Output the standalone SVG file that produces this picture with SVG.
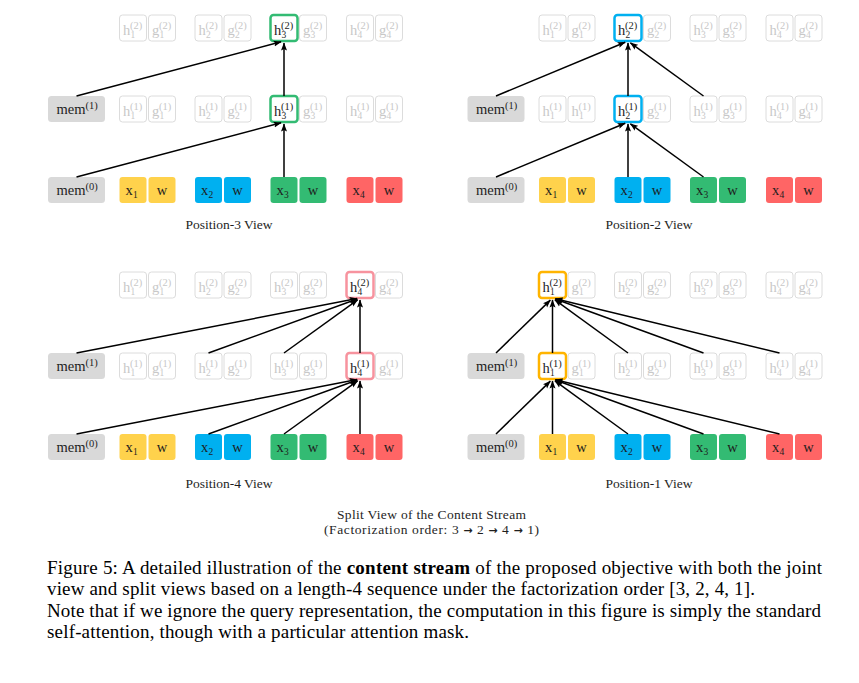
<svg xmlns="http://www.w3.org/2000/svg" width="859" height="683" viewBox="0 0 859 683">
<defs>
<style>
text{font-family:"Liberation Serif","Times New Roman",serif;fill:#1e1e1e;font-size:14.5px}
.s{font-size:10.5px}
.b{font-size:9.5px}
.gh rect{fill:#fff;stroke:#dcdcdc;stroke-width:1}
.gh text{fill:#c8c8c8}
.hl rect{fill:#fff;stroke-width:2.5}
.green rect{stroke:#33bb73}
.blue rect{stroke:#00b0f0}
.pink rect{stroke:#f7939e}
.orange rect{stroke:#ffb400}
.mem rect{fill:#d9d9d9}
.yl rect{fill:#ffd24c}
.bl rect{fill:#00b0f0}
.gr rect{fill:#33bb73}
.rd rect{fill:#ff6565}
.c{stroke:#000;stroke-width:1.5;fill:none;marker-end:url(#ah)}
.lab{font-size:13.5px}
.cap{font-size:19px;fill:#000}
.arr{font-family:"DejaVu Sans",sans-serif;font-weight:bold;font-size:11px}
</style>
<marker id="ah" markerUnits="userSpaceOnUse" markerWidth="9" markerHeight="7" viewBox="0 0 9 7" refX="7.5" refY="3.5" orient="auto"><path d="M0,0.5 L8,3.5 L0,6.5 L1.5,3.5 z" fill="#000"/></marker>
</defs>

<!-- ================= Panel Position-3 (top-left) ================= -->
<g id="p3">
<g id="p3-h1-2" class="gh" transform="translate(119.5,15)"><rect width="27" height="26" rx="3"/><text><tspan x="3.5" y="19.5">h</tspan><tspan class="s" x="10.5" y="14">(2)</tspan><tspan class="b" x="11" y="22.5">1</tspan></text></g>
<g id="p3-g1-2" class="gh" transform="translate(148.5,15)"><rect width="27" height="26" rx="3"/><text><tspan x="3.5" y="19.5">g</tspan><tspan class="s" x="10.5" y="14">(2)</tspan><tspan class="b" x="11" y="22.5">1</tspan></text></g>
<g id="p3-h2-2" class="gh" transform="translate(195,15)"><rect width="27" height="26" rx="3"/><text><tspan x="3.5" y="19.5">h</tspan><tspan class="s" x="10.5" y="14">(2)</tspan><tspan class="b" x="11" y="22.5">2</tspan></text></g>
<g id="p3-g2-2" class="gh" transform="translate(224,15)"><rect width="27" height="26" rx="3"/><text><tspan x="3.5" y="19.5">g</tspan><tspan class="s" x="10.5" y="14">(2)</tspan><tspan class="b" x="11" y="22.5">2</tspan></text></g>
<g id="p3-h3-2" class="hl green" transform="translate(270.5,15)"><rect width="27" height="26" rx="3"/><text><tspan x="3.5" y="19.5">h</tspan><tspan class="s" x="10.5" y="14">(2)</tspan><tspan class="b" x="11" y="22.5">3</tspan></text></g>
<g id="p3-g3-2" class="gh" transform="translate(299.5,15)"><rect width="27" height="26" rx="3"/><text><tspan x="3.5" y="19.5">g</tspan><tspan class="s" x="10.5" y="14">(2)</tspan><tspan class="b" x="11" y="22.5">3</tspan></text></g>
<g id="p3-h4-2" class="gh" transform="translate(346.5,15)"><rect width="27" height="26" rx="3"/><text><tspan x="3.5" y="19.5">h</tspan><tspan class="s" x="10.5" y="14">(2)</tspan><tspan class="b" x="11" y="22.5">4</tspan></text></g>
<g id="p3-g4-2" class="gh" transform="translate(375.5,15)"><rect width="27" height="26" rx="3"/><text><tspan x="3.5" y="19.5">g</tspan><tspan class="s" x="10.5" y="14">(2)</tspan><tspan class="b" x="11" y="22.5">4</tspan></text></g>

<g id="p3-mem1" class="mem" transform="translate(48,96)"><rect width="57" height="26" rx="3.5"/><text><tspan x="8.5" y="17.5">mem</tspan><tspan class="s" dy="-4.5">(1)</tspan></text></g>
<g id="p3-h1-1" class="gh" transform="translate(119.5,96)"><rect width="27" height="26" rx="3"/><text><tspan x="3.5" y="19.5">h</tspan><tspan class="s" x="10.5" y="14">(1)</tspan><tspan class="b" x="11" y="22.5">1</tspan></text></g>
<g id="p3-g1-1" class="gh" transform="translate(148.5,96)"><rect width="27" height="26" rx="3"/><text><tspan x="3.5" y="19.5">g</tspan><tspan class="s" x="10.5" y="14">(1)</tspan><tspan class="b" x="11" y="22.5">1</tspan></text></g>
<g id="p3-h2-1" class="gh" transform="translate(195,96)"><rect width="27" height="26" rx="3"/><text><tspan x="3.5" y="19.5">h</tspan><tspan class="s" x="10.5" y="14">(1)</tspan><tspan class="b" x="11" y="22.5">2</tspan></text></g>
<g id="p3-g2-1" class="gh" transform="translate(224,96)"><rect width="27" height="26" rx="3"/><text><tspan x="3.5" y="19.5">g</tspan><tspan class="s" x="10.5" y="14">(1)</tspan><tspan class="b" x="11" y="22.5">2</tspan></text></g>
<g id="p3-h3-1" class="hl green" transform="translate(270.5,96)"><rect width="27" height="26" rx="3"/><text><tspan x="3.5" y="19.5">h</tspan><tspan class="s" x="10.5" y="14">(1)</tspan><tspan class="b" x="11" y="22.5">3</tspan></text></g>
<g id="p3-g3-1" class="gh" transform="translate(299.5,96)"><rect width="27" height="26" rx="3"/><text><tspan x="3.5" y="19.5">g</tspan><tspan class="s" x="10.5" y="14">(1)</tspan><tspan class="b" x="11" y="22.5">3</tspan></text></g>
<g id="p3-h4-1" class="gh" transform="translate(346.5,96)"><rect width="27" height="26" rx="3"/><text><tspan x="3.5" y="19.5">h</tspan><tspan class="s" x="10.5" y="14">(1)</tspan><tspan class="b" x="11" y="22.5">4</tspan></text></g>
<g id="p3-g4-1" class="gh" transform="translate(375.5,96)"><rect width="27" height="26" rx="3"/><text><tspan x="3.5" y="19.5">g</tspan><tspan class="s" x="10.5" y="14">(1)</tspan><tspan class="b" x="11" y="22.5">4</tspan></text></g>

<g id="p3-mem0" class="mem" transform="translate(48,177)"><rect width="57" height="26" rx="3.5"/><text><tspan x="8.5" y="17.5">mem</tspan><tspan class="s" dy="-4.5">(0)</tspan></text></g>
<g id="p3-x1" class="yl" transform="translate(119.5,177)"><rect width="27" height="26" rx="3"/><text><tspan x="6" y="17.5">x</tspan><tspan class="b" x="13.5" y="20.5">1</tspan></text></g>
<g id="p3-w1" class="yl" transform="translate(148.5,177)"><rect width="27" height="26" rx="3"/><text x="13.5" y="17.5" text-anchor="middle">w</text></g>
<g id="p3-x2" class="bl" transform="translate(195,177)"><rect width="27" height="26" rx="3"/><text><tspan x="6" y="17.5">x</tspan><tspan class="b" x="13.5" y="20.5">2</tspan></text></g>
<g id="p3-w2" class="bl" transform="translate(224,177)"><rect width="27" height="26" rx="3"/><text x="13.5" y="17.5" text-anchor="middle">w</text></g>
<g id="p3-x3" class="gr" transform="translate(270.5,177)"><rect width="27" height="26" rx="3"/><text><tspan x="6" y="17.5">x</tspan><tspan class="b" x="13.5" y="20.5">3</tspan></text></g>
<g id="p3-w3" class="gr" transform="translate(299.5,177)"><rect width="27" height="26" rx="3"/><text x="13.5" y="17.5" text-anchor="middle">w</text></g>
<g id="p3-x4" class="rd" transform="translate(346.5,177)"><rect width="27" height="26" rx="3"/><text><tspan x="6" y="17.5">x</tspan><tspan class="b" x="13.5" y="20.5">4</tspan></text></g>
<g id="p3-w4" class="rd" transform="translate(375.5,177)"><rect width="27" height="26" rx="3"/><text x="13.5" y="17.5" text-anchor="middle">w</text></g>
<text id="p3-label" class="lab" x="229" y="228.5" text-anchor="middle">Position-3 View</text>
</g>

<!-- ================= Panel Position-2 (top-right) ================= -->
<g id="p2">
<g id="p2-h1-2" class="gh" transform="translate(539,15)"><rect width="27" height="26" rx="3"/><text><tspan x="3.5" y="19.5">h</tspan><tspan class="s" x="10.5" y="14">(2)</tspan><tspan class="b" x="11" y="22.5">1</tspan></text></g>
<g id="p2-g1-2" class="gh" transform="translate(568,15)"><rect width="27" height="26" rx="3"/><text><tspan x="3.5" y="19.5">g</tspan><tspan class="s" x="10.5" y="14">(2)</tspan><tspan class="b" x="11" y="22.5">1</tspan></text></g>
<g id="p2-h2-2" class="hl blue" transform="translate(614.5,15)"><rect width="27" height="26" rx="3"/><text><tspan x="3.5" y="19.5">h</tspan><tspan class="s" x="10.5" y="14">(2)</tspan><tspan class="b" x="11" y="22.5">2</tspan></text></g>
<g id="p2-g2-2" class="gh" transform="translate(643.5,15)"><rect width="27" height="26" rx="3"/><text><tspan x="3.5" y="19.5">g</tspan><tspan class="s" x="10.5" y="14">(2)</tspan><tspan class="b" x="11" y="22.5">2</tspan></text></g>
<g id="p2-h3-2" class="gh" transform="translate(690,15)"><rect width="27" height="26" rx="3"/><text><tspan x="3.5" y="19.5">h</tspan><tspan class="s" x="10.5" y="14">(2)</tspan><tspan class="b" x="11" y="22.5">3</tspan></text></g>
<g id="p2-g3-2" class="gh" transform="translate(719,15)"><rect width="27" height="26" rx="3"/><text><tspan x="3.5" y="19.5">g</tspan><tspan class="s" x="10.5" y="14">(2)</tspan><tspan class="b" x="11" y="22.5">3</tspan></text></g>
<g id="p2-h4-2" class="gh" transform="translate(766,15)"><rect width="27" height="26" rx="3"/><text><tspan x="3.5" y="19.5">h</tspan><tspan class="s" x="10.5" y="14">(2)</tspan><tspan class="b" x="11" y="22.5">4</tspan></text></g>
<g id="p2-g4-2" class="gh" transform="translate(795,15)"><rect width="27" height="26" rx="3"/><text><tspan x="3.5" y="19.5">g</tspan><tspan class="s" x="10.5" y="14">(2)</tspan><tspan class="b" x="11" y="22.5">4</tspan></text></g>

<g id="p2-mem1" class="mem" transform="translate(467.5,96)"><rect width="57" height="26" rx="3.5"/><text><tspan x="8.5" y="17.5">mem</tspan><tspan class="s" dy="-4.5">(1)</tspan></text></g>
<g id="p2-h1-1" class="gh" transform="translate(539,96)"><rect width="27" height="26" rx="3"/><text><tspan x="3.5" y="19.5">h</tspan><tspan class="s" x="10.5" y="14">(1)</tspan><tspan class="b" x="11" y="22.5">1</tspan></text></g>
<g id="p2-g1-1" class="gh" transform="translate(568,96)"><rect width="27" height="26" rx="3"/><text><tspan x="3.5" y="19.5">h</tspan><tspan class="s" x="10.5" y="14">(1)</tspan><tspan class="b" x="11" y="22.5">1</tspan></text></g>
<g id="p2-h2-1" class="hl blue" transform="translate(614.5,96)"><rect width="27" height="26" rx="3"/><text><tspan x="3.5" y="19.5">h</tspan><tspan class="s" x="10.5" y="14">(1)</tspan><tspan class="b" x="11" y="22.5">2</tspan></text></g>
<g id="p2-g2-1" class="gh" transform="translate(643.5,96)"><rect width="27" height="26" rx="3"/><text><tspan x="3.5" y="19.5">g</tspan><tspan class="s" x="10.5" y="14">(1)</tspan><tspan class="b" x="11" y="22.5">2</tspan></text></g>
<g id="p2-h3-1" class="gh" transform="translate(690,96)"><rect width="27" height="26" rx="3"/><text><tspan x="3.5" y="19.5">h</tspan><tspan class="s" x="10.5" y="14">(1)</tspan><tspan class="b" x="11" y="22.5">3</tspan></text></g>
<g id="p2-g3-1" class="gh" transform="translate(719,96)"><rect width="27" height="26" rx="3"/><text><tspan x="3.5" y="19.5">g</tspan><tspan class="s" x="10.5" y="14">(1)</tspan><tspan class="b" x="11" y="22.5">3</tspan></text></g>
<g id="p2-h4-1" class="gh" transform="translate(766,96)"><rect width="27" height="26" rx="3"/><text><tspan x="3.5" y="19.5">h</tspan><tspan class="s" x="10.5" y="14">(1)</tspan><tspan class="b" x="11" y="22.5">4</tspan></text></g>
<g id="p2-g4-1" class="gh" transform="translate(795,96)"><rect width="27" height="26" rx="3"/><text><tspan x="3.5" y="19.5">g</tspan><tspan class="s" x="10.5" y="14">(1)</tspan><tspan class="b" x="11" y="22.5">4</tspan></text></g>

<g id="p2-mem0" class="mem" transform="translate(467.5,177)"><rect width="57" height="26" rx="3.5"/><text><tspan x="8.5" y="17.5">mem</tspan><tspan class="s" dy="-4.5">(0)</tspan></text></g>
<g id="p2-x1" class="yl" transform="translate(539,177)"><rect width="27" height="26" rx="3"/><text><tspan x="6" y="17.5">x</tspan><tspan class="b" x="13.5" y="20.5">1</tspan></text></g>
<g id="p2-w1" class="yl" transform="translate(568,177)"><rect width="27" height="26" rx="3"/><text x="13.5" y="17.5" text-anchor="middle">w</text></g>
<g id="p2-x2" class="bl" transform="translate(614.5,177)"><rect width="27" height="26" rx="3"/><text><tspan x="6" y="17.5">x</tspan><tspan class="b" x="13.5" y="20.5">2</tspan></text></g>
<g id="p2-w2" class="bl" transform="translate(643.5,177)"><rect width="27" height="26" rx="3"/><text x="13.5" y="17.5" text-anchor="middle">w</text></g>
<g id="p2-x3" class="gr" transform="translate(690,177)"><rect width="27" height="26" rx="3"/><text><tspan x="6" y="17.5">x</tspan><tspan class="b" x="13.5" y="20.5">3</tspan></text></g>
<g id="p2-w3" class="gr" transform="translate(719,177)"><rect width="27" height="26" rx="3"/><text x="13.5" y="17.5" text-anchor="middle">w</text></g>
<g id="p2-x4" class="rd" transform="translate(766,177)"><rect width="27" height="26" rx="3"/><text><tspan x="6" y="17.5">x</tspan><tspan class="b" x="13.5" y="20.5">4</tspan></text></g>
<g id="p2-w4" class="rd" transform="translate(795,177)"><rect width="27" height="26" rx="3"/><text x="13.5" y="17.5" text-anchor="middle">w</text></g>
<text id="p2-label" class="lab" x="649" y="228.5" text-anchor="middle">Position-2 View</text>
</g>

<!-- ================= Panel Position-4 (bottom-left) ================= -->
<g id="p4">
<g id="p4-h1-2" class="gh" transform="translate(119.5,272)"><rect width="27" height="26" rx="3"/><text><tspan x="3.5" y="19.5">h</tspan><tspan class="s" x="10.5" y="14">(2)</tspan><tspan class="b" x="11" y="22.5">1</tspan></text></g>
<g id="p4-g1-2" class="gh" transform="translate(148.5,272)"><rect width="27" height="26" rx="3"/><text><tspan x="3.5" y="19.5">g</tspan><tspan class="s" x="10.5" y="14">(2)</tspan><tspan class="b" x="11" y="22.5">1</tspan></text></g>
<g id="p4-h2-2" class="gh" transform="translate(195,272)"><rect width="27" height="26" rx="3"/><text><tspan x="3.5" y="19.5">h</tspan><tspan class="s" x="10.5" y="14">(2)</tspan><tspan class="b" x="11" y="22.5">2</tspan></text></g>
<g id="p4-g2-2" class="gh" transform="translate(224,272)"><rect width="27" height="26" rx="3"/><text><tspan x="3.5" y="19.5">g</tspan><tspan class="s" x="10.5" y="14">(2)</tspan><tspan class="b" x="11" y="22.5">2</tspan></text></g>
<g id="p4-h3-2" class="gh" transform="translate(270.5,272)"><rect width="27" height="26" rx="3"/><text><tspan x="3.5" y="19.5">h</tspan><tspan class="s" x="10.5" y="14">(2)</tspan><tspan class="b" x="11" y="22.5">3</tspan></text></g>
<g id="p4-g3-2" class="gh" transform="translate(299.5,272)"><rect width="27" height="26" rx="3"/><text><tspan x="3.5" y="19.5">g</tspan><tspan class="s" x="10.5" y="14">(2)</tspan><tspan class="b" x="11" y="22.5">3</tspan></text></g>
<g id="p4-h4-2" class="hl pink" transform="translate(346.5,272)"><rect width="27" height="26" rx="3"/><text><tspan x="3.5" y="19.5">h</tspan><tspan class="s" x="10.5" y="14">(2)</tspan><tspan class="b" x="11" y="22.5">4</tspan></text></g>
<g id="p4-g4-2" class="gh" transform="translate(375.5,272)"><rect width="27" height="26" rx="3"/><text><tspan x="3.5" y="19.5">g</tspan><tspan class="s" x="10.5" y="14">(2)</tspan><tspan class="b" x="11" y="22.5">4</tspan></text></g>

<g id="p4-mem1" class="mem" transform="translate(48,353)"><rect width="57" height="26" rx="3.5"/><text><tspan x="8.5" y="17.5">mem</tspan><tspan class="s" dy="-4.5">(1)</tspan></text></g>
<g id="p4-h1-1" class="gh" transform="translate(119.5,353)"><rect width="27" height="26" rx="3"/><text><tspan x="3.5" y="19.5">h</tspan><tspan class="s" x="10.5" y="14">(1)</tspan><tspan class="b" x="11" y="22.5">1</tspan></text></g>
<g id="p4-g1-1" class="gh" transform="translate(148.5,353)"><rect width="27" height="26" rx="3"/><text><tspan x="3.5" y="19.5">g</tspan><tspan class="s" x="10.5" y="14">(1)</tspan><tspan class="b" x="11" y="22.5">1</tspan></text></g>
<g id="p4-h2-1" class="gh" transform="translate(195,353)"><rect width="27" height="26" rx="3"/><text><tspan x="3.5" y="19.5">h</tspan><tspan class="s" x="10.5" y="14">(1)</tspan><tspan class="b" x="11" y="22.5">2</tspan></text></g>
<g id="p4-g2-1" class="gh" transform="translate(224,353)"><rect width="27" height="26" rx="3"/><text><tspan x="3.5" y="19.5">g</tspan><tspan class="s" x="10.5" y="14">(1)</tspan><tspan class="b" x="11" y="22.5">2</tspan></text></g>
<g id="p4-h3-1" class="gh" transform="translate(270.5,353)"><rect width="27" height="26" rx="3"/><text><tspan x="3.5" y="19.5">h</tspan><tspan class="s" x="10.5" y="14">(1)</tspan><tspan class="b" x="11" y="22.5">3</tspan></text></g>
<g id="p4-g3-1" class="gh" transform="translate(299.5,353)"><rect width="27" height="26" rx="3"/><text><tspan x="3.5" y="19.5">g</tspan><tspan class="s" x="10.5" y="14">(1)</tspan><tspan class="b" x="11" y="22.5">3</tspan></text></g>
<g id="p4-h4-1" class="hl pink" transform="translate(346.5,353)"><rect width="27" height="26" rx="3"/><text><tspan x="3.5" y="19.5">h</tspan><tspan class="s" x="10.5" y="14">(1)</tspan><tspan class="b" x="11" y="22.5">4</tspan></text></g>
<g id="p4-g4-1" class="gh" transform="translate(375.5,353)"><rect width="27" height="26" rx="3"/><text><tspan x="3.5" y="19.5">g</tspan><tspan class="s" x="10.5" y="14">(1)</tspan><tspan class="b" x="11" y="22.5">4</tspan></text></g>

<g id="p4-mem0" class="mem" transform="translate(48,434)"><rect width="57" height="26" rx="3.5"/><text><tspan x="8.5" y="17.5">mem</tspan><tspan class="s" dy="-4.5">(0)</tspan></text></g>
<g id="p4-x1" class="yl" transform="translate(119.5,434)"><rect width="27" height="26" rx="3"/><text><tspan x="6" y="17.5">x</tspan><tspan class="b" x="13.5" y="20.5">1</tspan></text></g>
<g id="p4-w1" class="yl" transform="translate(148.5,434)"><rect width="27" height="26" rx="3"/><text x="13.5" y="17.5" text-anchor="middle">w</text></g>
<g id="p4-x2" class="bl" transform="translate(195,434)"><rect width="27" height="26" rx="3"/><text><tspan x="6" y="17.5">x</tspan><tspan class="b" x="13.5" y="20.5">2</tspan></text></g>
<g id="p4-w2" class="bl" transform="translate(224,434)"><rect width="27" height="26" rx="3"/><text x="13.5" y="17.5" text-anchor="middle">w</text></g>
<g id="p4-x3" class="gr" transform="translate(270.5,434)"><rect width="27" height="26" rx="3"/><text><tspan x="6" y="17.5">x</tspan><tspan class="b" x="13.5" y="20.5">3</tspan></text></g>
<g id="p4-w3" class="gr" transform="translate(299.5,434)"><rect width="27" height="26" rx="3"/><text x="13.5" y="17.5" text-anchor="middle">w</text></g>
<g id="p4-x4" class="rd" transform="translate(346.5,434)"><rect width="27" height="26" rx="3"/><text><tspan x="6" y="17.5">x</tspan><tspan class="b" x="13.5" y="20.5">4</tspan></text></g>
<g id="p4-w4" class="rd" transform="translate(375.5,434)"><rect width="27" height="26" rx="3"/><text x="13.5" y="17.5" text-anchor="middle">w</text></g>
<text id="p4-label" class="lab" x="229" y="487.5" text-anchor="middle">Position-4 View</text>
</g>

<!-- ================= Panel Position-1 (bottom-right) ================= -->
<g id="p1">
<g id="p1-h1-2" class="hl orange" transform="translate(539,272)"><rect width="27" height="26" rx="3"/><text><tspan x="3.5" y="19.5">h</tspan><tspan class="s" x="10.5" y="14">(2)</tspan><tspan class="b" x="11" y="22.5">1</tspan></text></g>
<g id="p1-g1-2" class="gh" transform="translate(568,272)"><rect width="27" height="26" rx="3"/><text><tspan x="3.5" y="19.5">g</tspan><tspan class="s" x="10.5" y="14">(2)</tspan><tspan class="b" x="11" y="22.5">1</tspan></text></g>
<g id="p1-h2-2" class="gh" transform="translate(614.5,272)"><rect width="27" height="26" rx="3"/><text><tspan x="3.5" y="19.5">h</tspan><tspan class="s" x="10.5" y="14">(2)</tspan><tspan class="b" x="11" y="22.5">2</tspan></text></g>
<g id="p1-g2-2" class="gh" transform="translate(643.5,272)"><rect width="27" height="26" rx="3"/><text><tspan x="3.5" y="19.5">g</tspan><tspan class="s" x="10.5" y="14">(2)</tspan><tspan class="b" x="11" y="22.5">2</tspan></text></g>
<g id="p1-h3-2" class="gh" transform="translate(690,272)"><rect width="27" height="26" rx="3"/><text><tspan x="3.5" y="19.5">h</tspan><tspan class="s" x="10.5" y="14">(2)</tspan><tspan class="b" x="11" y="22.5">3</tspan></text></g>
<g id="p1-g3-2" class="gh" transform="translate(719,272)"><rect width="27" height="26" rx="3"/><text><tspan x="3.5" y="19.5">g</tspan><tspan class="s" x="10.5" y="14">(2)</tspan><tspan class="b" x="11" y="22.5">3</tspan></text></g>
<g id="p1-h4-2" class="gh" transform="translate(766,272)"><rect width="27" height="26" rx="3"/><text><tspan x="3.5" y="19.5">h</tspan><tspan class="s" x="10.5" y="14">(2)</tspan><tspan class="b" x="11" y="22.5">4</tspan></text></g>
<g id="p1-g4-2" class="gh" transform="translate(795,272)"><rect width="27" height="26" rx="3"/><text><tspan x="3.5" y="19.5">g</tspan><tspan class="s" x="10.5" y="14">(2)</tspan><tspan class="b" x="11" y="22.5">4</tspan></text></g>

<g id="p1-mem1" class="mem" transform="translate(467.5,353)"><rect width="57" height="26" rx="3.5"/><text><tspan x="8.5" y="17.5">mem</tspan><tspan class="s" dy="-4.5">(1)</tspan></text></g>
<g id="p1-h1-1" class="hl orange" transform="translate(539,353)"><rect width="27" height="26" rx="3"/><text><tspan x="3.5" y="19.5">h</tspan><tspan class="s" x="10.5" y="14">(1)</tspan><tspan class="b" x="11" y="22.5">1</tspan></text></g>
<g id="p1-g1-1" class="gh" transform="translate(568,353)"><rect width="27" height="26" rx="3"/><text><tspan x="3.5" y="19.5">g</tspan><tspan class="s" x="10.5" y="14">(1)</tspan><tspan class="b" x="11" y="22.5">1</tspan></text></g>
<g id="p1-h2-1" class="gh" transform="translate(614.5,353)"><rect width="27" height="26" rx="3"/><text><tspan x="3.5" y="19.5">h</tspan><tspan class="s" x="10.5" y="14">(1)</tspan><tspan class="b" x="11" y="22.5">2</tspan></text></g>
<g id="p1-g2-1" class="gh" transform="translate(643.5,353)"><rect width="27" height="26" rx="3"/><text><tspan x="3.5" y="19.5">g</tspan><tspan class="s" x="10.5" y="14">(1)</tspan><tspan class="b" x="11" y="22.5">2</tspan></text></g>
<g id="p1-h3-1" class="gh" transform="translate(690,353)"><rect width="27" height="26" rx="3"/><text><tspan x="3.5" y="19.5">h</tspan><tspan class="s" x="10.5" y="14">(1)</tspan><tspan class="b" x="11" y="22.5">3</tspan></text></g>
<g id="p1-g3-1" class="gh" transform="translate(719,353)"><rect width="27" height="26" rx="3"/><text><tspan x="3.5" y="19.5">g</tspan><tspan class="s" x="10.5" y="14">(1)</tspan><tspan class="b" x="11" y="22.5">3</tspan></text></g>
<g id="p1-h4-1" class="gh" transform="translate(766,353)"><rect width="27" height="26" rx="3"/><text><tspan x="3.5" y="19.5">h</tspan><tspan class="s" x="10.5" y="14">(1)</tspan><tspan class="b" x="11" y="22.5">4</tspan></text></g>
<g id="p1-g4-1" class="gh" transform="translate(795,353)"><rect width="27" height="26" rx="3"/><text><tspan x="3.5" y="19.5">g</tspan><tspan class="s" x="10.5" y="14">(1)</tspan><tspan class="b" x="11" y="22.5">4</tspan></text></g>

<g id="p1-mem0" class="mem" transform="translate(467.5,434)"><rect width="57" height="26" rx="3.5"/><text><tspan x="8.5" y="17.5">mem</tspan><tspan class="s" dy="-4.5">(0)</tspan></text></g>
<g id="p1-x1" class="yl" transform="translate(539,434)"><rect width="27" height="26" rx="3"/><text><tspan x="6" y="17.5">x</tspan><tspan class="b" x="13.5" y="20.5">1</tspan></text></g>
<g id="p1-w1" class="yl" transform="translate(568,434)"><rect width="27" height="26" rx="3"/><text x="13.5" y="17.5" text-anchor="middle">w</text></g>
<g id="p1-x2" class="bl" transform="translate(614.5,434)"><rect width="27" height="26" rx="3"/><text><tspan x="6" y="17.5">x</tspan><tspan class="b" x="13.5" y="20.5">2</tspan></text></g>
<g id="p1-w2" class="bl" transform="translate(643.5,434)"><rect width="27" height="26" rx="3"/><text x="13.5" y="17.5" text-anchor="middle">w</text></g>
<g id="p1-x3" class="gr" transform="translate(690,434)"><rect width="27" height="26" rx="3"/><text><tspan x="6" y="17.5">x</tspan><tspan class="b" x="13.5" y="20.5">3</tspan></text></g>
<g id="p1-w3" class="gr" transform="translate(719,434)"><rect width="27" height="26" rx="3"/><text x="13.5" y="17.5" text-anchor="middle">w</text></g>
<g id="p1-x4" class="rd" transform="translate(766,434)"><rect width="27" height="26" rx="3"/><text><tspan x="6" y="17.5">x</tspan><tspan class="b" x="13.5" y="20.5">4</tspan></text></g>
<g id="p1-w4" class="rd" transform="translate(795,434)"><rect width="27" height="26" rx="3"/><text x="13.5" y="17.5" text-anchor="middle">w</text></g>
<text id="p1-label" class="lab" x="649" y="487.5" text-anchor="middle">Position-1 View</text>
</g>

<!-- ================= Connectors ================= -->
<g id="connectors">
<path class="c" d="M76.5,96 L281.1,41.8"/>
<path class="c" d="M284,96 L284,43"/>
<path class="c" d="M76.5,177 L281.1,122.8"/>
<path class="c" d="M284,177 L284,124"/>

<path class="c" d="M496,96 L625.2,42.2"/>
<path class="c" d="M628,96 L628,43"/>
<path class="c" d="M703.5,96 L630.4,42.8"/>
<path class="c" d="M496,177 L625.2,123.2"/>
<path class="c" d="M628,177 L628,124"/>
<path class="c" d="M703.5,177 L630.4,123.8"/>

<path class="c" d="M76.5,353 L357.1,298.6"/>
<path class="c" d="M208.5,353 L357.2,299"/>
<path class="c" d="M284,353 L357.6,299.8"/>
<path class="c" d="M360,353 L360,300"/>
<path class="c" d="M76.5,434 L357.1,379.6"/>
<path class="c" d="M208.5,434 L357.2,380"/>
<path class="c" d="M284,434 L357.6,380.8"/>
<path class="c" d="M360,434 L360,381"/>

<path class="c" d="M496,353 L550.35,300.1"/>
<path class="c" d="M552.5,353 L552.5,300"/>
<path class="c" d="M628,353 L554.9,299.8"/>
<path class="c" d="M703.5,353 L555.3,299"/>
<path class="c" d="M779.5,353 L555.4,298.7"/>
<path class="c" d="M496,434 L550.35,381.1"/>
<path class="c" d="M552.5,434 L552.5,381"/>
<path class="c" d="M628,434 L554.9,380.8"/>
<path class="c" d="M703.5,434 L555.3,380"/>
<path class="c" d="M779.5,434 L555.4,379.7"/>
</g>

<!-- ================= Captions ================= -->
<g id="captions">
<text class="lab" x="337" y="519" textLength="189" lengthAdjust="spacing">Split View of the Content Stream</text>
<text class="lab" x="324" y="533.5" textLength="215" lengthAdjust="spacing">(Factorization order: 3 <tspan class="arr">→</tspan> 2 <tspan class="arr">→</tspan> 4 <tspan class="arr">→</tspan> 1)</text>
<text class="cap" x="47" y="574" textLength="775" lengthAdjust="spacing">Figure 5: A detailed illustration of the <tspan font-weight="bold">content stream</tspan> of the proposed objective with both the joint</text>
<text class="cap" x="47" y="595" textLength="708" lengthAdjust="spacing">view and split views based on a length-4 sequence under the factorization order [3, 2, 4, 1].</text>
<text class="cap" x="47" y="616.5" textLength="774" lengthAdjust="spacing">Note that if we ignore the query representation, the computation in this figure is simply the standard</text>
<text class="cap" x="47" y="637.5" textLength="422" lengthAdjust="spacing">self-attention, though with a particular attention mask.</text>
</g>
</svg>
